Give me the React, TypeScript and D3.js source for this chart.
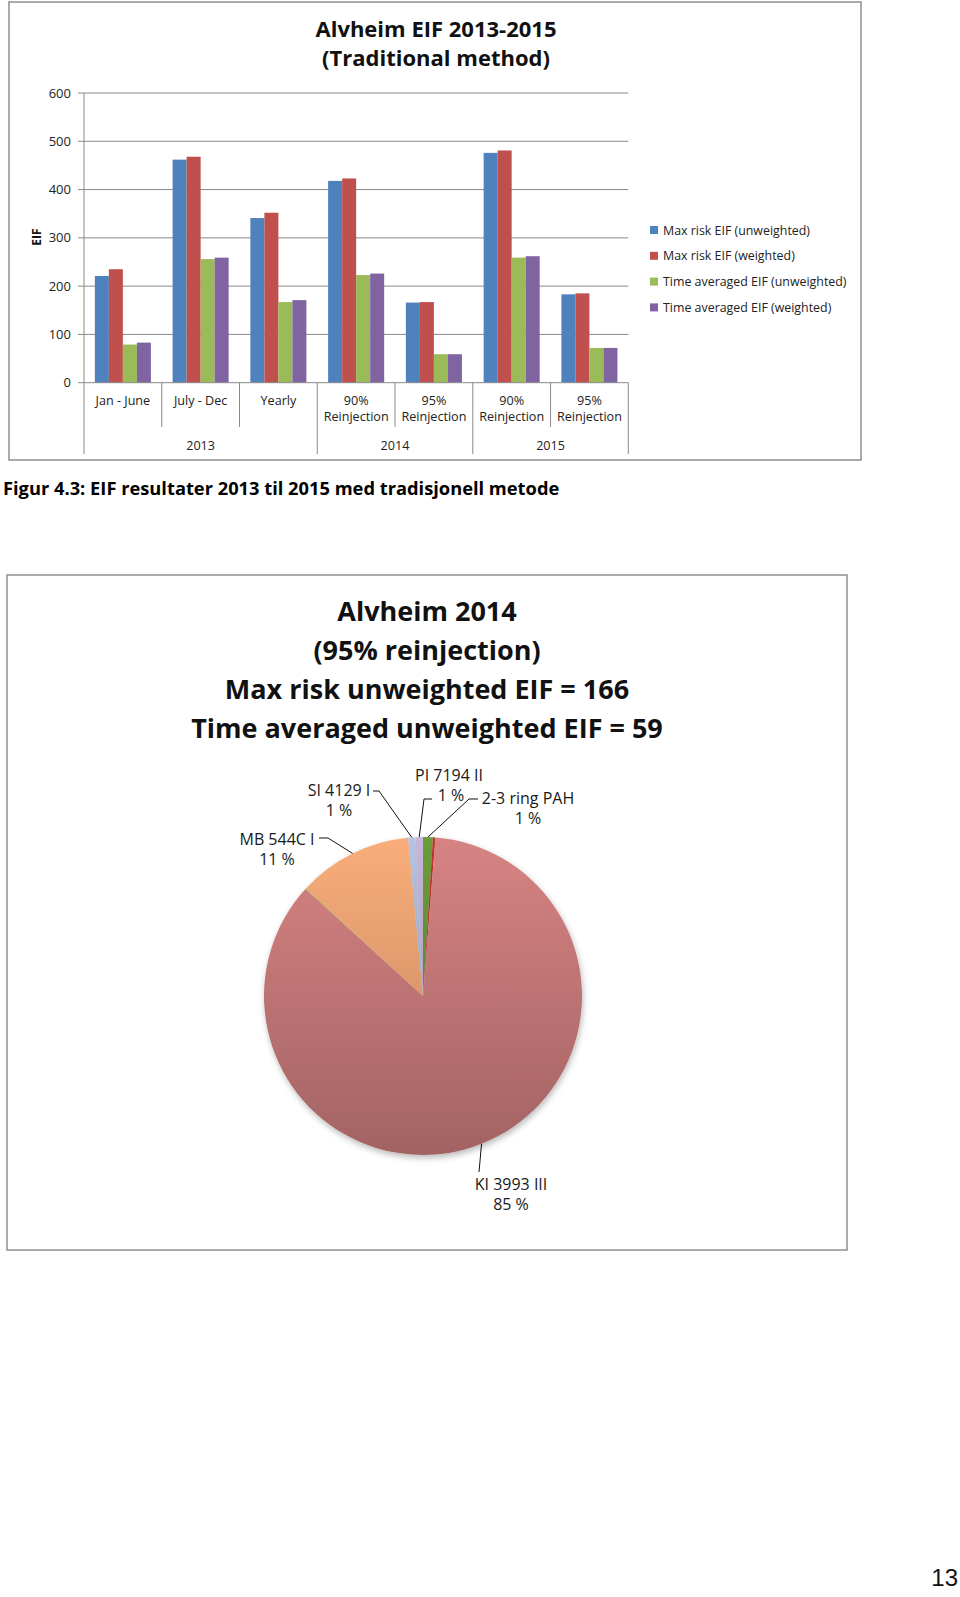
import React from "react";
import * as d3 from "d3";

// ---------- Bar chart data ----------
const categoryLine1 = ["Jan - June", "July - Dec", "Yearly", "90%", "95%", "90%", "95%"];
const categoryLine2 = ["", "", "", "Reinjection", "Reinjection", "Reinjection", "Reinjection"];
const groupLabels = ["2013", "2014", "2015"];
const groupSpans = [3, 2, 2];
const seriesNames = [
  "Max risk EIF (unweighted)",
  "Max risk EIF (weighted)",
  "Time averaged EIF (unweighted)",
  "Time averaged EIF (weighted)",
];
const seriesColors = ["#4f81bd", "#c0504d", "#9bbb59", "#8064a2"];
const maxRiskUnweighted = [221, 462, 341, 418, 166, 476, 183];
const maxRiskWeighted = [235, 468, 352, 423, 167, 481, 185];
const timeAvgUnweighted = [79, 256, 167, 223, 59, 259, 72];
const timeAvgWeighted = [83, 259, 171, 226, 59, 262, 72];
const yTicks = [0, 100, 200, 300, 400, 500, 600];
const barTitle = ["Alvheim EIF 2013-2015", "(Traditional method)"];
const yAxisLabel = "EIF";
const caption = "Figur 4.3: EIF resultater 2013 til 2015 med tradisjonell metode";

// ---------- Pie chart data ----------
const pieTitle = [
  "Alvheim 2014",
  "(95% reinjection)",
  "Max risk unweighted EIF = 166",
  "Time averaged unweighted EIF = 59",
];
const pieNames = ["2-3 ring PAH", "other A", "KI 3993 III", "other B", "MB 544C I", "SI 4129 I", "PI 7194 II"];
const pieValues = [1.0, 0.25, 85.5, 0.15, 11.6, 0.75, 0.75];
const pieLabelPct = ["1 %", "", "85 %", "", "11 %", "1 %", "1 %"];
const pieColors = ["#6c9c3a", "#c2332e", "#d78383", "#d9b264", "#faad7a", "#b5c3e1", "#c7b6da"];
const pageNumber = "13";

const FONT = "'Open Sans', Lato, sans-serif";

export default function App() {
  // ---- bar chart layout ----
  const plotLeft = 84;
  const plotRight = 628.3;
  const plotTop = 93;
  const plotBottom = 382.7;
  const idx = categoryLine1.map((_, i) => String(i));
  const x = d3.scaleBand<string>().domain(idx).range([plotLeft, plotRight]).paddingInner(0).paddingOuter(0);
  const xInner = d3
    .scaleBand<string>()
    .domain(seriesNames)
    .range([0, x.bandwidth()])
    .paddingInner(0)
    .paddingOuter(0.775);
  const y = d3.scaleLinear().domain([0, 600]).range([plotBottom, plotTop]);
  const series = [maxRiskUnweighted, maxRiskWeighted, timeAvgUnweighted, timeAvgWeighted];

  const groupBounds: { start: number; end: number; label: string }[] = [];
  let acc = 0;
  groupSpans.forEach((n, gi) => {
    groupBounds.push({ start: acc, end: acc + n, label: groupLabels[gi] });
    acc += n;
  });
  const groupEdgeIdx = new Set<number>([0, ...groupBounds.map((g) => g.end)]);

  // ---- pie layout ----
  const cx = 423;
  const cy = 996;
  const r = 159;
  const pie = d3.pie<number>().sort(null).value((d) => d)(pieValues);
  const arc = d3.arc<d3.PieArcDatum<number>>().innerRadius(0).outerRadius(r);
  const edgePoint = (a: d3.PieArcDatum<number>) => {
    const m = (a.startAngle + a.endAngle) / 2;
    return [cx + r * Math.sin(m), cy - r * Math.cos(m)];
  };
  const labelLayout: Record<string, { tx: number; ty: number; elbow?: [number, number][] }> = {
    "SI 4129 I": { tx: 339, ty: 796, elbow: [[373, 791], [379, 791]] },
    "PI 7194 II": { tx: 449, ty: 781, elbow: [[432, 799], [424, 799]] },
    "2-3 ring PAH": { tx: 528, ty: 804, elbow: [[478, 799], [469, 799]] },
    "MB 544C I": { tx: 277, ty: 845, elbow: [[319, 838], [328, 838]] },
    "KI 3993 III": { tx: 511, ty: 1190, elbow: [[479, 1172]] },
  };

  return (
    <svg
      width={960}
      height={1597}
      style={{ position: "absolute", left: 0, top: 0, background: "#fff" }}
      fontFamily={FONT}
    >
      <defs>
        {pie.map((a, i) => {
          const c = d3.color(pieColors[i])!;
          return (
            <linearGradient key={i} id={`pg${i}`} gradientUnits="userSpaceOnUse" x1={0} y1={-r} x2={0} y2={r}>
              <stop offset="0" stopColor={c.formatHex()} />
              <stop offset="1" stopColor={c.darker(0.78).formatHex()} />
            </linearGradient>
          );
        })}
        <filter id="pieShadow" x="-20%" y="-20%" width="140%" height="140%">
          <feDropShadow dx="1" dy="3" stdDeviation="3" floodColor="#000" floodOpacity="0.28" />
        </filter>
      </defs>

      {/* ================= BAR CHART ================= */}
      <rect x={9} y={2} width={852} height={458} fill="#fff" stroke="#8e8e8e" strokeWidth={1.5} />
      {barTitle.map((t, i) => (
        <text key={i} x={436} y={37 + i * 29} textAnchor="middle" fontWeight="bold" fontSize={22} fill="#111">
          {t}
        </text>
      ))}

      {yTicks.map((t) => (
        <g key={t}>
          {t > 0 && <line x1={plotLeft} x2={plotRight} y1={y(t)} y2={y(t)} stroke="#8a8a8a" strokeWidth={1} />}
          <line x1={plotLeft - 6} x2={plotLeft} y1={y(t)} y2={y(t)} stroke="#8a8a8a" strokeWidth={1} />
          <text x={71} y={y(t) + 4.6} textAnchor="end" fontSize={13} fill="#222">
            {t}
          </text>
        </g>
      ))}
      <text
        transform={`translate(41,237) rotate(-90)`}
        textAnchor="middle"
        fontWeight="bold"
        fontSize={12}
        fill="#111"
      >
        {yAxisLabel}
      </text>

      {series.map((vals, si) =>
        vals.map((v, ci) => (
          <rect
            key={`${si}-${ci}`}
            x={(x(String(ci)) ?? 0) + (xInner(seriesNames[si]) ?? 0)}
            y={y(v)}
            width={xInner.bandwidth()}
            height={y(0) - y(v)}
            fill={seriesColors[si]}
          />
        ))
      )}

      <line x1={plotLeft} x2={plotLeft} y1={plotTop} y2={plotBottom} stroke="#8a8a8a" strokeWidth={1} />
      <line x1={plotLeft} x2={plotRight} y1={plotBottom} y2={plotBottom} stroke="#8a8a8a" strokeWidth={1} />
      {d3.range(categoryLine1.length + 1).map((k) => {
        const xx = k < categoryLine1.length ? x(String(k))! : plotRight;
        const deep = groupEdgeIdx.has(k);
        return (
          <line key={k} x1={xx} x2={xx} y1={plotBottom} y2={deep ? 454 : 427} stroke="#8a8a8a" strokeWidth={1} />
        );
      })}
      {categoryLine1.map((l, i) => {
        const xc = x(String(i))! + x.bandwidth() / 2;
        return (
          <g key={i}>
            <text x={xc} y={405} textAnchor="middle" fontSize={12.6} fill="#222">
              {l}
            </text>
            {categoryLine2[i] && (
              <text x={xc} y={421} textAnchor="middle" fontSize={12.6} fill="#222">
                {categoryLine2[i]}
              </text>
            )}
          </g>
        );
      })}
      {groupBounds.map((g) => {
        const x0 = x(String(g.start))!;
        const x1 = g.end < categoryLine1.length ? x(String(g.end))! : plotRight;
        return (
          <text key={g.label} x={(x0 + x1) / 2} y={450} textAnchor="middle" fontSize={12.6} fill="#222">
            {g.label}
          </text>
        );
      })}

      {seriesNames.map((n, i) => (
        <g key={n} transform={`translate(650, ${230 + i * 25.8})`}>
          <rect x={0} y={-4} width={8} height={8} fill={seriesColors[i]} />
          <text x={13} y={4.5} fontSize={12.4} fill="#222">
            {n}
          </text>
        </g>
      ))}

      <text x={3} y={495} fontWeight="bold" fontSize={18.3} fill="#000">
        {caption}
      </text>

      {/* ================= PIE CHART ================= */}
      <rect x={7} y={575} width={840} height={675} fill="#fff" stroke="#8e8e8e" strokeWidth={1.5} />
      {pieTitle.map((t, i) => (
        <text key={i} x={427} y={621 + i * 39} textAnchor="middle" fontWeight="bold" fontSize={27} fill="#111">
          {t}
        </text>
      ))}

      <g filter="url(#pieShadow)">
        {pie.map((a, i) => (
          <path key={i} d={arc(a) ?? ""} transform={`translate(${cx},${cy})`} fill={`url(#pg${i})`} />
        ))}
      </g>

      {pie.map((a, i) => {
        const name = pieNames[i];
        const lay = labelLayout[name];
        if (!lay) return null;
        const [ex, ey] = edgePoint(a);
        const pts = [...(lay.elbow ?? []), [ex, ey]];
        const lineGen = d3.line();
        return (
          <g key={name}>
            <path d={lineGen(pts as [number, number][]) ?? ""} fill="none" stroke="#111" strokeWidth={1} />
            <text x={lay.tx} y={lay.ty} textAnchor="middle" fontSize={16} fill="#1a1a1a">
              {name}
            </text>
            <text x={lay.tx + (name === "PI 7194 II" ? 2 : 0)} y={lay.ty + 20} textAnchor="middle" fontSize={16} fill="#1a1a1a">
              {pieLabelPct[i]}
            </text>
          </g>
        );
      })}

      <text x={958} y={1586} textAnchor="end" fontFamily="'Liberation Sans', Arial, sans-serif" fontSize={24} fill="#111">
        {pageNumber}
      </text>
    </svg>
  );
}
